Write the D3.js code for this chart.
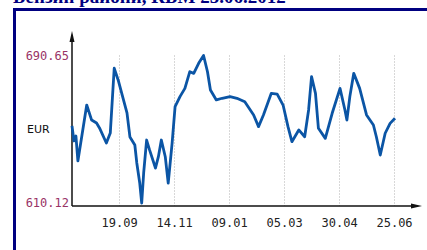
<!DOCTYPE html>
<html>
<head>
<meta charset="utf-8">
<script src="https://cdn.jsdelivr.net/npm/d3@7"></script>
<style>
	body { margin: 0; background: #fff; }
	svg { display: block; }
</style>
</head>
<body>
<svg id="chart" width="427" height="250"></svg>
<script>
var titleText = "Бензин райони, КБМ 25.06.2012";
var unitLabel = "EUR";

var dates = ["2011-08-02", "2011-08-04", "2011-08-06", "2011-08-08", "2011-08-17", "2011-08-22",
	"2011-08-27", "2011-08-30", "2011-09-06", "2011-09-10", "2011-09-14", "2011-09-18",
	"2011-09-27", "2011-09-30", "2011-10-05", "2011-10-07", "2011-10-10", "2011-10-12",
	"2011-10-14", "2011-10-17", "2011-10-20", "2011-10-26", "2011-10-29", "2011-11-01",
	"2011-11-05", "2011-11-08", "2011-11-12", "2011-11-15", "2011-11-20", "2011-11-25",
	"2011-11-30", "2011-12-04", "2011-12-09", "2011-12-14", "2011-12-18", "2011-12-21",
	"2011-12-27", "2012-01-02", "2012-01-10", "2012-01-17", "2012-01-25", "2012-02-03",
	"2012-02-08", "2012-02-13", "2012-02-21", "2012-02-27", "2012-03-04", "2012-03-09",
	"2012-03-13", "2012-03-20", "2012-03-26", "2012-03-30", "2012-04-02", "2012-04-06",
	"2012-04-09", "2012-04-16", "2012-04-23", "2012-05-01", "2012-05-06", "2012-05-08",
	"2012-05-11", "2012-05-15", "2012-05-21", "2012-05-28", "2012-06-04", "2012-06-07",
	"2012-06-11", "2012-06-16", "2012-06-21", "2012-06-26"];

var prices = [652.2, 644.0, 646.7, 633.1, 663.6, 655.4,
	653.8, 651.1, 642.9, 648.3, 683.7, 677.3,
	659.3, 646.2, 641.8, 632.0, 621.0, 610.12,
	626.5, 644.5, 639.1, 629.2, 635.4, 644.5,
	635.4, 621.0, 642.9, 662.7, 668.2, 672.7,
	681.8, 680.9, 686.4, 690.65, 681.8, 671.8,
	666.4, 667.3, 668.2, 667.3, 665.4, 658.2,
	651.8, 658.2, 670.0, 669.6, 663.6, 651.8,
	643.6, 650.0, 646.3, 660.9, 679.1, 670.0,
	650.9, 645.4, 659.1, 672.7, 660.9, 655.4,
	668.2, 680.9, 672.7, 658.2, 652.7, 646.3,
	636.3, 648.2, 653.6, 656.4];

var tickDates = ["2011-09-19", "2011-11-14", "2012-01-09", "2012-03-05", "2012-04-30", "2012-06-25"];
var yLabelValues = [690.65, 610.12];

var parseDate = d3.timeParse("%Y-%m-%d");
var fmtTick = d3.timeFormat("%d.%m");

var points = dates.map(function(d, i) {
	return {date: parseDate(d), value: prices[i]};
});

var x = d3.scaleTime()
	.domain([parseDate("2011-08-02"), parseDate("2012-06-26")])
	.range([72, 395]);
var y = d3.scaleLinear()
	.domain([610.12, 690.65])
	.range([203, 55.5]);

var svg = d3.select("#chart");
var axisY = 206;

// title, mostly cut off at the top
svg.append("text")
	.attr("x", 13)
	.attr("y", 3)
	.attr("font-family", "Liberation Serif, serif")
	.attr("font-weight", "bold")
	.attr("font-size", 19)
	.attr("fill", "#000080")
	.text(titleText);

// frame
svg.append("rect")
	.attr("x", 13)
	.attr("y", 8)
	.attr("width", 414)
	.attr("height", 3)
	.attr("fill", "#000080");
svg.append("rect")
	.attr("x", 13)
	.attr("y", 8)
	.attr("width", 3)
	.attr("height", 242)
	.attr("fill", "#000080");

// dotted grid
svg.selectAll(".grid")
	.data(tickDates)
	.enter().append("line")
	.attr("class", "grid")
	.attr("x1", function(d) { return Math.round(x(parseDate(d))) + 0.5; })
	.attr("x2", function(d) { return Math.round(x(parseDate(d))) + 0.5; })
	.attr("y1", y(690.65))
	.attr("y2", axisY)
	.attr("stroke", "#b0b0b0")
	.attr("stroke-width", 1)
	.attr("stroke-dasharray", "1,2");

// axes with arrows
svg.append("line")
	.attr("x1", 72).attr("y1", 36)
	.attr("x2", 72).attr("y2", axisY)
	.attr("stroke", "#111")
	.attr("stroke-width", 1.5);
svg.append("line")
	.attr("x1", 72).attr("y1", axisY)
	.attr("x2", 416).attr("y2", axisY)
	.attr("stroke", "#111")
	.attr("stroke-width", 1.6);
svg.append("path")
	.attr("d", "M72,31 L74.5,42 L69.5,42 Z")
	.attr("fill", "#111");
svg.append("path")
	.attr("d", "M422," + axisY + " L411," + (axisY - 2.5) + " L411," + (axisY + 2.5) + " Z")
	.attr("fill", "#111");

// x tick labels
var xAxis = d3.axisBottom(x)
	.tickValues(tickDates.map(parseDate))
	.tickFormat(fmtTick)
	.tickSize(0)
	.tickPadding(0);
var gx = svg.append("g")
	.attr("transform", "translate(0," + 227 + ")")
	.call(xAxis);
gx.select(".domain").remove();
gx.selectAll("text")
	.attr("dy", 0)
	.attr("font-family", "DejaVu Sans Mono, monospace")
	.attr("font-size", 12)
	.attr("fill", "#222");

// y labels
svg.selectAll(".ylab")
	.data(yLabelValues)
	.enter().append("text")
	.attr("class", "ylab")
	.attr("x", 69)
	.attr("y", function(d) { return y(d); })
	.attr("dy", "0.35em")
	.attr("text-anchor", "end")
	.attr("font-family", "DejaVu Sans Mono, monospace")
	.attr("font-size", 12)
	.attr("fill", "#993366")
	.text(function(d) { return d.toFixed(2); });

svg.append("text")
	.attr("x", 27)
	.attr("y", y((yLabelValues[0] + yLabelValues[1]) / 2))
	.attr("dy", "0.35em")
	.attr("font-family", "DejaVu Sans, sans-serif")
	.attr("font-size", 11)
	.attr("fill", "#111")
	.text(unitLabel);

// price line
var line = d3.line()
	.x(function(d) { return x(d.date); })
	.y(function(d) { return y(d.value); });
svg.append("path")
	.datum(points)
	.attr("d", line)
	.attr("fill", "none")
	.attr("stroke", "#0b55a5")
	.attr("stroke-width", 2.8)
	.attr("stroke-linejoin", "round");
</script>
</body>
</html>
